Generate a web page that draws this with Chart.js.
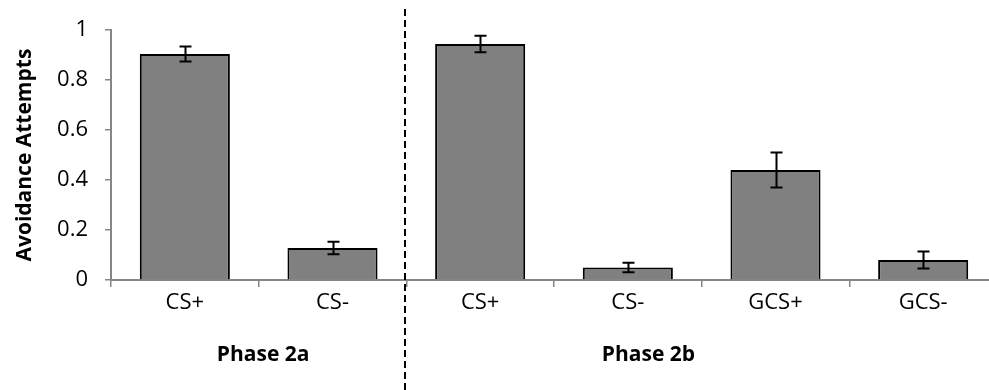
<!DOCTYPE html>
<html>
<head>
<meta charset="utf-8">
<script src="https://cdn.jsdelivr.net/npm/chart.js@4.4.1/dist/chart.umd.min.js"></script>
<style>
  html, body { margin: 0; padding: 0; background: #fff; overflow: hidden; }
  #wrap { position: relative; width: 997px; height: 390px; }
</style>
</head>
<body>
<div id="wrap"><canvas id="chart"></canvas></div>
<script>
// Avoidance attempts per stimulus, with standard-error bars
const categories = ['CS+', 'CS-', 'CS+', 'CS-', 'GCS+', 'GCS-'];
const means = [0.905, 0.128, 0.945, 0.050, 0.440, 0.080];
const errors = [0.030, 0.025, 0.033, 0.019, 0.070, 0.034];
const yTicks = [0, 0.2, 0.4, 0.6, 0.8, 1];
const phases = ['Phase 2a', 'Phase 2b'];
const phaseAnchors = [0.53, 3.14];   // label centre, in category units
const phaseDivider = 1.5;            // boundary between the two phases

const FONT = "'Open Sans', sans-serif";
const AXIS_GREY = '#868686';

const errorBars = {
  id: 'errorBars',
  afterDatasetsDraw(chart) {
    const { ctx, scales: { y } } = chart;
    const meta = chart.getDatasetMeta(0);
    ctx.save();
    ctx.strokeStyle = '#000';
    ctx.lineWidth = 2;
    meta.data.forEach((bar, i) => {
      const top = y.getPixelForValue(means[i] + errors[i]);
      const bot = y.getPixelForValue(means[i] - errors[i]);
      const x = Math.round(bar.x) + 0.5;
      ctx.beginPath();
      ctx.moveTo(x, top); ctx.lineTo(x, bot);
      ctx.moveTo(x - 6, top); ctx.lineTo(x + 6, top);
      ctx.moveTo(x - 6, bot); ctx.lineTo(x + 6, bot);
      ctx.stroke();
    });
    ctx.restore();
  }
};

const phaseLabels = {
  id: 'phaseLabels',
  afterDraw(chart) {
    const { ctx, scales: { x } } = chart;
    ctx.save();
    // dashed divider between phases
    const dx = Math.round(x.getPixelForValue(phaseDivider)) - 1;
    ctx.strokeStyle = '#000';
    ctx.lineWidth = 2;
    ctx.setLineDash([7, 4]);
    ctx.beginPath();
    ctx.moveTo(dx, 9);
    ctx.lineTo(dx, chart.height);
    ctx.stroke();
    ctx.setLineDash([]);
    // phase names under the category labels
    ctx.fillStyle = '#000';
    ctx.font = "bold 21px " + FONT;
    ctx.textAlign = 'center';
    ctx.textBaseline = 'middle';
    phases.forEach((p, i) => {
      ctx.fillText(p, x.getPixelForValue(phaseAnchors[i]), 355);
    });
    ctx.restore();
  }
};

new Chart(document.getElementById('chart'), {
  type: 'bar',
  data: {
    labels: categories,
    datasets: [{
      data: means,
      backgroundColor: '#808080',
      borderColor: '#000',
      borderWidth: 2,
      borderSkipped: 'bottom',
      categoryPercentage: 1,
      barPercentage: 0.61
    }]
  },
  options: {
    responsive: true,
    maintainAspectRatio: false,
    animation: false,
    layout: { padding: { top: 25, right: 0, bottom: 0, left: 0 } },
    plugins: { legend: { display: false }, tooltip: { enabled: false } },
    scales: {
      x: {
        afterFit(scale) { scale.height = 110; },
        grid: { drawOnChartArea: false, drawTicks: true, tickLength: 7, color: AXIS_GREY, lineWidth: 1.5 },
        border: { color: AXIS_GREY, width: 2 },
        ticks: { color: '#000', font: { family: FONT, size: 22 }, padding: 3 }
      },
      y: {
        min: 0, max: 1,
        afterBuildTicks(scale) { scale.ticks = yTicks.map(v => ({ value: v })); },
        afterFit(scale) { scale.width = 111; },
        grid: { drawOnChartArea: false, drawTicks: true, tickLength: 6, color: AXIS_GREY, lineWidth: 1.5 },
        border: { color: AXIS_GREY, width: 2 },
        ticks: {
          color: '#000',
          font: { family: FONT, size: 22 },
          padding: 17,
          callback: v => String(v)
        },
        title: {
          display: true,
          text: 'Avoidance Attempts',
          color: '#000',
          font: { family: FONT, size: 21, weight: 'bold' },
          padding: { top: 12, bottom: 0 }
        }
      }
    }
  },
  plugins: [errorBars, phaseLabels]
});
</script>
</body>
</html>
